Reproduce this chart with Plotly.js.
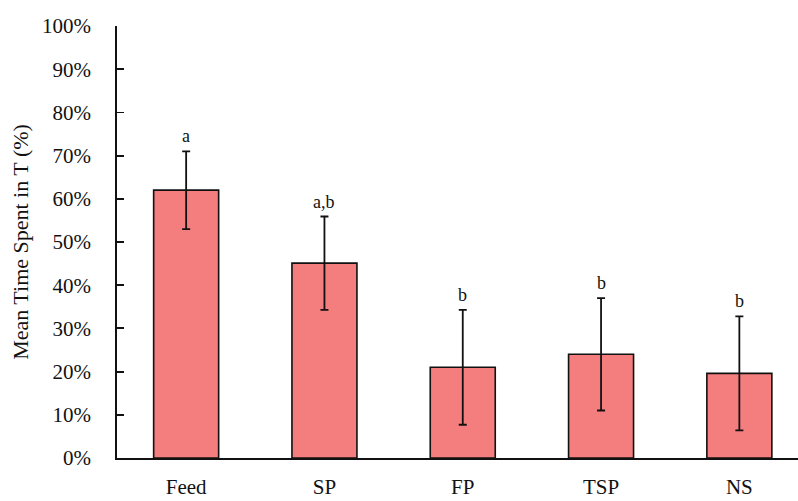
<!DOCTYPE html>
<html>
<head>
<meta charset="utf-8">
<script src="https://cdn.plot.ly/plotly-3.0.1.min.js"></script>
<style>html,body{margin:0;padding:0;background:#fff;}</style>
</head>
<body>
<div id="chart" style="width:798px;height:501px;"></div>
<script>
const categories = ["Feed", "SP", "FP", "TSP", "NS"];
const meanValues = [62.0, 45.1, 21.0, 24.0, 19.6];
const errorValues = [9.0, 10.8, 13.3, 13.0, 13.2];
const groupLetters = ["a", "a,b", "b", "b", "b"];
const yTickValues = [0, 10, 20, 30, 40, 50, 60, 70, 80, 90, 100];
const yTickLabels = ["0%", "10%", "20%", "30%", "40%", "50%", "60%", "70%", "80%", "90%", "100%"];

const serif = "Liberation Serif, Times New Roman, serif";

const trace = {
  type: "bar",
  x: categories,
  y: meanValues,
  width: 0.47,
  marker: { color: "#F47D7D", line: { color: "#111", width: 1.6 } },
  error_y: { type: "data", array: errorValues, visible: true, color: "#111", thickness: 1.8, width: 4 },
  hoverinfo: "none"
};

const annotations = categories.map((c, i) => ({
  x: c, y: meanValues[i] + errorValues[i], xref: "x", yref: "y",
  text: groupLetters[i], showarrow: false, yanchor: "bottom", yshift: 3,
  font: { family: serif, size: 18, color: "#111" }
}));

const layout = {
  width: 798, height: 501,
  margin: { l: 117, r: 0, t: 26, b: 43 },
  paper_bgcolor: "#fff", plot_bgcolor: "#fff",
  showlegend: false,
  xaxis: {
    range: [-0.5, 4.424],
    showline: true, linecolor: "#111", linewidth: 1.8,
    ticks: "", showgrid: false, zeroline: false,
    tickfont: { family: serif, size: 21, color: "#111" },
    ticklabelstandoff: 9
  },
  yaxis: {
    range: [0, 100],
    tickmode: "array", tickvals: yTickValues, ticktext: yTickLabels,
    showline: true, linecolor: "#111", linewidth: 1.8,
    ticks: "inside", ticklen: 7, tickwidth: 1.8, tickcolor: "#111",
    showgrid: false, zeroline: false,
    tickfont: { family: serif, size: 21, color: "#111" },
    ticklabelstandoff: 20,
    title: { text: "Mean Time Spent in T (%)", font: { family: serif, size: 22, color: "#111" }, standoff: 7 }
  },
  annotations: annotations
};

Plotly.newPlot("chart", [trace], layout, { displayModeBar: false, staticPlot: true });
</script>
</body>
</html>
